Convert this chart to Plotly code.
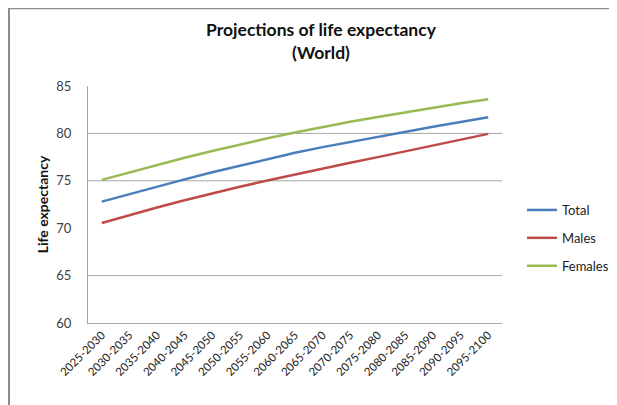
import plotly.graph_objects as go

periods = ["2025-2030", "2030-2035", "2035-2040", "2040-2045", "2045-2050",
           "2050-2055", "2055-2060", "2060-2065", "2065-2070", "2070-2075",
           "2075-2080", "2080-2085", "2085-2090", "2090-2095", "2095-2100"]
total = [72.8, 73.6, 74.4, 75.15, 75.9, 76.6, 77.3, 77.95, 78.55, 79.1,
         79.65, 80.2, 80.7, 81.2, 81.7]
males = [70.55, 71.38, 72.18, 72.95, 73.68, 74.37, 75.03, 75.67, 76.3, 76.9,
         77.5, 78.1, 78.7, 79.3, 79.95]
females = [75.1, 75.9, 76.68, 77.43, 78.15, 78.83, 79.48, 80.1, 80.68, 81.22,
           81.73, 82.23, 82.71, 83.17, 83.6]
y_ticks = [60, 65, 70, 75, 80, 85]
grid_values = [65, 75, 80]

FONT = "Lato, 'Open Sans', sans-serif"
# page body has an 8px default margin, so the figure is 8px smaller
W, H = 609, 397
L, R, T, B = 80, 115, 78, 82
pw, ph = W - L - R, H - T - B

fig = go.Figure()
for name, vals, col in [("Total", total, "#4A7EBB"),
                        ("Males", males, "#BE4B48"),
                        ("Females", females, "#98B954")]:
    fig.add_trace(go.Scatter(x=periods, y=vals, mode="lines", name=name,
                             legendgroup=name,
                             line=dict(color=col, width=2.5)))

shapes = []
for g in grid_values:
    shapes.append(dict(type="line", xref="paper", yref="y", x0=0, x1=1,
                       y0=g, y1=g, line=dict(color="#A6A6A6", width=1),
                       layer="below"))
# outer chart border (left and top)
shapes.append(dict(type="line", xref="paper", yref="paper",
                   x0=(1 - L) / pw, x1=(1 - L) / pw,
                   y0=1 + T / ph, y1=-(B + 5) / ph,
                   line=dict(color="#8C8C8C", width=2)))
shapes.append(dict(type="line", xref="paper", yref="paper",
                   x0=(1 - L) / pw, x1=1 + (R + 5) / pw,
                   y0=1 + (T - 0.5) / ph, y1=1 + (T - 0.5) / ph,
                   line=dict(color="#8C8C8C", width=1.5)))

fig.update_layout(
    width=W, height=H,
    margin=dict(l=L, r=R, t=T, b=B, autoexpand=False),
    paper_bgcolor="white", plot_bgcolor="white",
    font=dict(family=FONT, size=11, color="#222222"),
    title=dict(text="<b>Projections of life expectancy<br>(World)</b>",
               x=313 / W, xref="container", xanchor="center",
               y=1 - 28 / H, yref="container", yanchor="top",
               font=dict(family=FONT, size=17.5, color="#111111")),
    xaxis=dict(type="category", showgrid=False, showline=True,
               range=[-0.5, len(periods) - 0.5],
               linecolor="#A6A6A6", linewidth=1, ticks="", automargin=False,
               tickangle=-45, tickfont=dict(size=11.5), zeroline=False),
    yaxis=dict(range=[60, 85], tickvals=y_ticks, showgrid=False,
               showline=True, linecolor="#A6A6A6", linewidth=1,
               ticks="", ticklabelstandoff=13, zeroline=False, automargin=False,
               tickfont=dict(size=13, color="#404040"),
               title=dict(text="<b>Life expectancy</b>",
                          font=dict(size=14, color="#111111"), standoff=4)),
    legend=dict(x=514 / W, xref="container", xanchor="left",
                y=1 - 230 / H, yref="container", yanchor="middle",
                font=dict(size=13, color="#222222"),
                tracegroupgap=8, itemwidth=30, bgcolor="rgba(0,0,0,0)"),
    shapes=shapes,
    showlegend=True,
)

fig.write_html("out.html")
